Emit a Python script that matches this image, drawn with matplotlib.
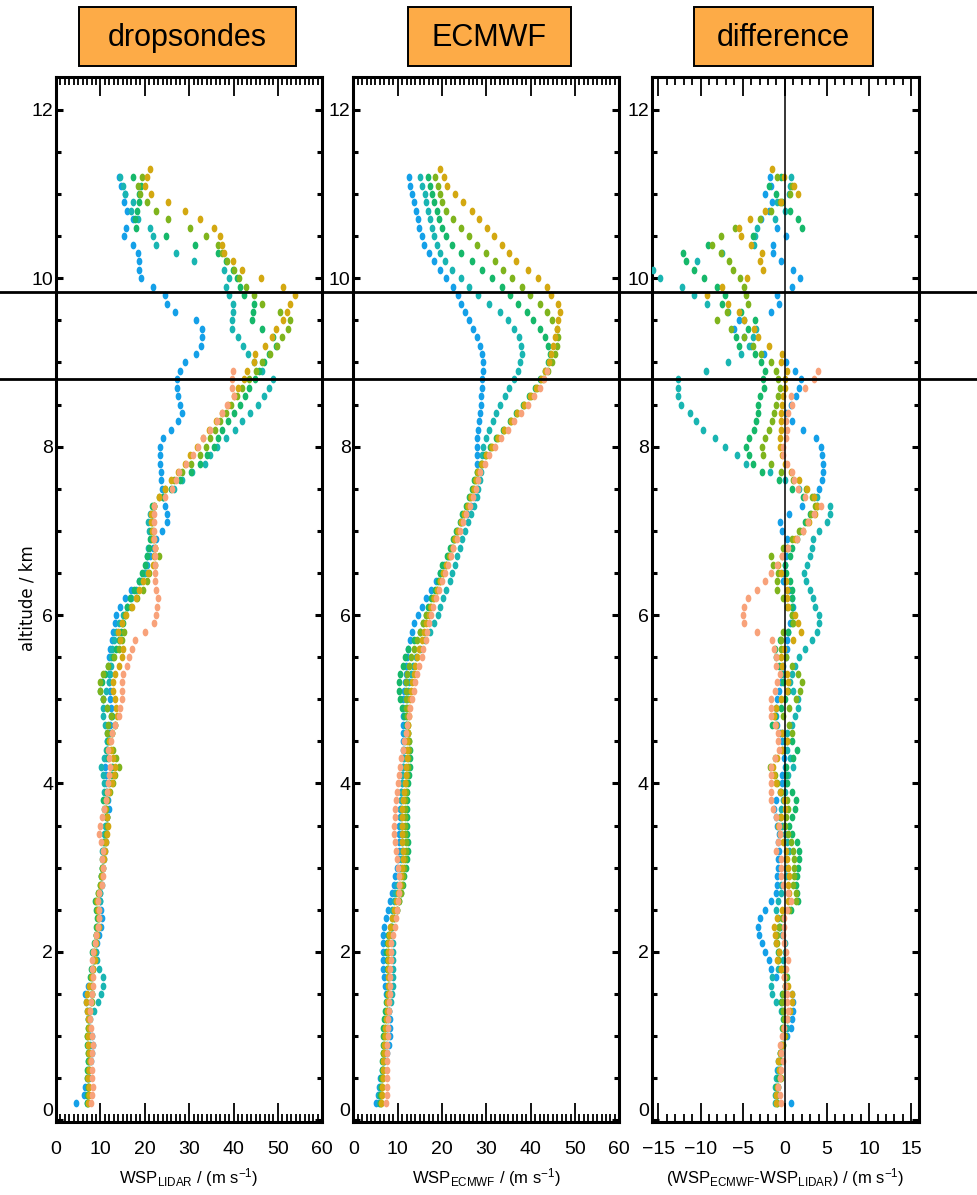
import numpy as np
import matplotlib
matplotlib.use('Agg')
import matplotlib.pyplot as plt
from matplotlib import font_manager
from matplotlib.path import Path
from matplotlib.patches import Rectangle
from matplotlib.lines import Line2D
import matplotlib.transforms as mtransforms

names = {f.name for f in font_manager.fontManager.ttflist}
NARROW = 'Liberation Sans Narrow' if 'Liberation Sans Narrow' in names else 'Liberation Sans'
plt.rcParams['font.family'] = [NARROW, 'DejaVu Sans']
plt.rcParams['mathtext.fontset'] = 'custom'
plt.rcParams['mathtext.rm'] = NARROW
plt.rcParams['mathtext.it'] = NARROW
plt.rcParams['mathtext.bf'] = NARROW

# ---------------- data (wind speed, m/s) on altitude levels 0.2, 0.3, ... km ----------------
alt_start = 0.2
alt_step = 0.1

# dropsondes
drop_blue = [4.5, 6.4, 6.6, 7.0, 7.4, 7.8, 8.2, 8.3, 8.0, 7.6,
             7.3, 7.0, 6.7, 6.5, 7.2, 8.0, 8.4, 8.6, 8.9, 9.3,
             9.8, 10.1, 10.3, 10.2, 10.0, 9.9, 10.1, 10.4, 10.6, 10.9,
             11.0, 11.2, 11.1, 11.3, 11.6, 11.9, 11.7, 11.4, 11.2, 11.3,
             11.1, 11.3, 11.4, 11.6, 11.9, 12.2, 12.4, 12.3, 12.2, 12.1,
             12.0, 12.0, 12.1, 12.0, 12.2, 12.6, 12.9, 13.2, 13.6, 14.4,
             15.6, 17.0, 18.8, 19.8, 20.5, 21.2, 21.8, 22.5, 23.8, 25.1,
             25.1, 24.6, 24.0, 23.8, 23.7, 23.6, 23.5, 23.5, 23.5, 24.2,
             25.9, 27.4, 28.4, 28.0, 27.6, 27.3, 27.2, 28.0, 29.1, 31.6,
             32.6, 32.8, 32.9, 31.5, 26.8, 25.1, 24.6, 21.8, 19.1, 18.6,
             18.6, 18.4, 17.4, 15.3, 15.8, 17.4, 16.1, 15.3, 15.6, 14.6,
             14.3]
drop_teal = [6.9, 7.1, 7.3, 7.5, 7.4, 7.3, 7.5, 7.7, 7.6, 7.4,
             7.6, 8.6, 9.4, 10.2, 10.6, 10.5, 9.8, 9.2, 9.0, 8.9,
             9.1, 9.3, 9.5, 9.8, 9.9, 10.0, 10.3, 10.1, 10.4, 10.6,
             10.4, 10.7, 10.9, 11.1, 11.4, 11.3, 11.0, 10.8, 10.8, 10.6,
             10.2, 10.8, 11.3, 11.6, 11.4, 11.0, 10.7, 10.5, 10.6, 11.3,
             12.0, 12.2, 12.3, 12.4, 12.6, 13.0, 13.5, 14.2, 15.0, 16.0,
             17.0, 18.0, 19.2, 20.0, 20.3, 20.5, 20.8, 21.3, 21.0, 20.8,
             21.2, 22.0, 24.0, 26.5, 28.5, 30.6, 33.6, 34.8, 36.3, 38.2,
             40.3, 42.0, 43.6, 45.5, 46.9, 47.9, 48.9, 46.5, 44.5, 43.2,
             42.1, 41.1, 39.6, 39.6, 39.9, 39.9, 39.0, 38.4, 39.0, 37.9,
             31.1, 27.1, 22.6, 21.8, 21.1, 18.5, 16.8, 17.3, 15.6, 15.0,
             14.4]
drop_green = [6.9, 7.0, 7.2, 7.1, 7.0, 7.1, 7.2, 7.0, 6.9, 7.1,
              7.2, 7.5, 7.9, 8.0, 7.8, 7.6, 7.9, 8.3, 8.2, 8.6,
              8.9, 9.1, 9.3, 9.1, 8.8, 9.4, 9.9, 10.1, 10.3, 10.4,
              10.6, 10.9, 11.3, 11.5, 11.2, 10.8, 10.7, 11.3, 12.0, 12.4,
              12.6, 11.8, 11.4, 11.7, 12.6, 13.4, 12.6, 11.5, 10.6, 9.9,
              10.4, 11.0, 11.8, 12.8, 13.6, 14.2, 14.6, 15.0, 15.6, 16.0,
              16.7, 17.5, 18.6, 19.4, 20.0, 20.6, 21.0, 21.2, 21.4, 21.6,
              21.6, 21.6, 24.0, 26.0, 28.0, 30.5, 32.5, 34.0, 35.5, 36.6,
              37.5, 38.7, 40.0, 41.5, 42.6, 43.5, 44.8, 45.7, 46.8, 48.0,
              49.5, 49.0, 46.5, 44.1, 44.3, 44.7, 42.4, 41.5, 40.8, 39.8,
              38.4, 36.5, 31.4, 24.8, 18.0, 17.9, 18.2, 18.6, 18.8, 19.2,
              17.3]
drop_lime = [7.1, 7.3, 7.2, 7.0, 7.2, 7.4, 7.3, 7.1, 7.0, 7.2,
             7.4, 7.7, 8.0, 8.1, 8.0, 7.9, 8.3, 8.6, 8.5, 8.8,
             9.0, 9.3, 9.5, 9.3, 9.0, 9.4, 10.0, 10.2, 10.4, 10.6,
             10.8, 11.1, 11.3, 11.6, 11.5, 11.2, 11.5, 12.2, 12.8, 13.3,
             14.1, 13.6, 12.8, 12.2, 11.6, 11.8, 12.3, 11.4, 10.5, 10.0,
             9.9, 10.6, 11.8, 13.0, 14.1, 14.8, 15.3, 14.8, 15.6, 17.0,
             18.2, 19.7, 20.4, 21.0, 22.3, 23.1, 22.4, 22.0, 21.8, 21.6,
             21.8, 22.0, 23.1, 24.5, 26.5, 28.5, 30.5, 32.5, 33.8, 34.8,
             35.8, 37.0, 38.3, 39.5, 40.8, 42.0, 43.5, 45.0, 46.5, 48.3,
             49.8, 51.0, 52.3, 52.8, 50.5, 46.4, 44.5, 42.8, 41.2, 40.0,
             38.6, 37.5, 36.6, 33.8, 30.2, 25.3, 22.5, 20.5, 18.9, 18.4,
             19.3]
drop_gold = [7.3, 7.5, 7.4, 7.2, 7.4, 7.6, 7.5, 7.3, 7.2, 7.4,
             7.2, 7.0, 6.8, 7.0, 7.5, 8.0, 8.4, 8.8, 8.6, 8.9,
             9.2, 9.6, 9.7, 9.5, 9.3, 9.6, 10.1, 10.3, 10.6, 10.8,
             11.0, 11.2, 11.5, 11.7, 11.4, 11.0, 11.3, 12.0, 12.6, 13.1,
             13.3, 12.9, 12.4, 12.0, 12.6, 13.4, 13.8, 13.6, 13.2, 12.8,
             12.9, 13.4, 14.3, 14.8, 15.0, 14.4, 14.0, 14.8, 15.8, 17.2,
             18.0, 18.6, 19.5, 20.8, 21.8, 22.0, 22.2, 21.8, 21.6, 21.4,
             21.4, 22.0, 23.1, 24.6, 26.0, 27.5, 29.0, 30.3, 31.8, 33.2,
             34.5, 36.0, 37.5, 38.7, 40.0, 41.1, 42.3, 43.0, 44.5, 44.9,
             47.0, 48.7, 49.6, 51.1, 52.0, 52.8, 53.8, 51.1, 46.2, 41.9,
             39.8, 37.9, 37.5, 37.0, 35.5, 32.5, 29.0, 25.3, 21.4, 20.1,
             20.6, 21.1]
drop_salmon = [7.8, 8.1, 8.3, 8.2, 8.0, 7.9, 8.1, 8.3, 8.1, 7.9,
               7.7, 7.6, 7.8, 8.0, 8.3, 8.4, 8.2, 8.0, 8.3, 8.7,
               9.1, 9.4, 9.7, 9.6, 9.4, 9.8, 10.4, 10.7, 10.5, 10.4,
               10.6, 10.2, 9.8, 9.9, 10.4, 10.9, 11.3, 11.6, 11.8, 12.0,
               12.2, 12.0, 11.8, 12.3, 12.6, 13.4, 14.1, 14.4, 14.8, 14.8,
               14.8, 15.0, 15.9, 16.5, 17.1, 17.8, 20.0, 22.0, 22.5, 22.8,
               23.0, 22.6, 22.3, 22.3, 22.3, 22.3, 22.2, 22.0, 22.0, 22.0,
               22.0, 22.0, 24.6, 26.1, 27.0, 27.8, 29.4, 30.9, 32.1, 33.2,
               34.6, 36.2, 37.4, 38.5, 40.0, 39.6, 39.6, 39.9]

# ECMWF
ecmwf_blue = [5.2, 5.5, 5.8, 6.1, 6.5, 7.0, 7.6, 8.1, 8.3, 8.3,
              8.2, 8.0, 7.7, 7.4, 7.2, 7.0, 6.8, 6.7, 6.6, 6.6,
              6.7, 6.9, 7.3, 7.8, 8.3, 8.8, 9.2, 9.5, 9.8, 10.1,
              10.3, 10.4, 10.4, 10.4, 10.5, 10.6, 10.7, 10.8, 10.9, 11.0,
              11.1, 11.2, 11.3, 11.3, 11.3, 11.3, 11.3, 11.3, 11.3, 11.4,
              11.6, 11.8, 11.9, 12.1, 12.4, 12.8, 13.3, 13.8, 14.6, 15.4,
              16.4, 17.5, 18.6, 19.6, 20.5, 21.3, 22.1, 22.8, 23.5, 24.5,
              25.6, 26.6, 27.4, 27.9, 28.1, 28.1, 28.0, 27.9, 27.8, 27.9,
              28.1, 28.3, 28.5, 28.7, 28.9, 29.0, 29.1, 29.2, 29.2, 29.1,
              28.6, 28.0, 26.9, 26.0, 25.2, 24.4, 23.7, 22.6, 20.9, 19.6,
              18.1, 17.0, 16.0, 15.4, 14.9, 14.6, 14.2, 13.8, 13.3, 12.9,
              12.5]
ecmwf_teal = [5.7, 5.9, 6.1, 6.4, 6.6, 6.9, 7.1, 7.3, 7.5, 7.7,
              7.9, 8.1, 8.4, 8.7, 8.9, 9.0, 9.0, 9.0, 9.0, 8.9,
              8.8, 8.7, 8.7, 8.8, 9.1, 9.5, 9.9, 10.2, 10.5, 10.7,
              10.9, 10.9, 10.9, 10.8, 10.8, 10.8, 10.8, 10.8, 10.9, 11.0,
              11.2, 11.4, 11.5, 11.6, 11.7, 11.8, 11.9, 12.0, 12.1, 12.3,
              12.6, 13.0, 13.5, 14.1, 15.0, 16.2, 17.3, 18.2, 19.0, 19.6,
              20.3, 21.0, 21.7, 22.3, 22.9, 23.5, 24.0, 24.6, 25.1, 25.8,
              26.6, 27.3, 27.8, 28.2, 28.5, 28.8, 29.0, 29.1, 29.2, 29.9,
              30.6, 31.4, 32.3, 33.2, 34.2, 35.2, 36.2, 37.1, 37.7, 38.0,
              37.9, 37.3, 36.2, 34.8, 33.1, 30.7, 28.2, 26.2, 24.2, 22.2,
              20.7, 19.6, 18.9, 18.3, 17.8, 17.3, 16.8, 16.4, 16.1, 15.6,
              15.1]
ecmwf_green = [6.0, 6.1, 6.2, 6.3, 6.4, 6.5, 6.6, 6.6, 6.7, 6.8,
               7.0, 7.2, 7.4, 7.7, 7.9, 7.9, 7.7, 7.5, 7.4, 7.5,
               7.8, 8.4, 9.1, 9.8, 10.4, 10.8, 11.2, 11.5, 11.8, 12.1,
               12.3, 12.3, 12.2, 12.0, 12.0, 12.0, 12.0, 12.1, 12.3, 12.5,
               12.7, 12.8, 12.8, 12.6, 12.3, 11.9, 11.4, 11.0, 10.6, 10.3,
               10.2, 10.5, 11.1, 11.7, 12.4, 13.6, 15.0, 15.8, 16.4, 16.9,
               17.5, 18.4, 19.2, 19.5, 20.0, 21.2, 21.8, 22.6, 23.2, 24.0,
               24.6, 25.4, 26.1, 26.8, 27.3, 27.8, 28.7, 29.7, 30.9, 32.3,
               33.8, 35.3, 36.8, 38.3, 39.7, 41.0, 42.2, 43.3, 44.0, 44.4,
               44.0, 43.2, 42.1, 40.6, 39.1, 37.2, 35.3, 33.5, 31.2, 29.0,
               26.7, 24.4, 22.3, 21.0, 20.0, 19.4, 18.8, 18.3, 17.7, 17.3,
               16.9]
ecmwf_lime = [6.2, 6.3, 6.4, 6.5, 6.6, 6.7, 6.8, 6.9, 7.0, 7.1,
              7.3, 7.5, 7.7, 7.9, 8.0, 8.0, 7.9, 7.8, 7.8, 7.9,
              8.1, 8.6, 9.2, 9.8, 10.3, 10.7, 11.0, 11.3, 11.5, 11.7,
              11.8, 11.8, 11.7, 11.6, 11.6, 11.6, 11.7, 11.8, 11.9, 12.1,
              12.3, 12.4, 12.5, 12.5, 12.4, 12.3, 12.1, 11.9, 11.8, 11.8,
              11.9, 12.2, 12.6, 13.1, 13.7, 14.4, 15.1, 15.8, 16.5, 17.3,
              18.0, 18.8, 19.5, 20.2, 20.9, 21.5, 22.2, 22.8, 23.5, 24.2,
              24.9, 25.6, 26.3, 27.0, 27.5, 28.0, 28.9, 29.9, 31.1, 32.5,
              33.9, 35.5, 37.0, 38.5, 40.0, 41.4, 42.7, 43.9, 44.9, 45.5,
              46.0, 46.2, 45.9, 44.8, 43.6, 42.0, 39.9, 38.0, 35.9, 33.8,
              32.0, 29.9, 28.0, 26.2, 24.3, 22.4, 20.9, 19.9, 19.5, 19.2,
              18.4]
ecmwf_gold = [6.3, 6.4, 6.5, 6.6, 6.7, 6.8, 6.9, 7.0, 7.1, 7.2,
              7.4, 7.6, 7.7, 7.8, 7.9, 7.9, 7.9, 7.9, 7.9, 7.9,
              8.0, 8.3, 8.8, 9.2, 9.7, 10.1, 10.5, 10.8, 11.0, 11.1,
              11.1, 11.0, 10.9, 10.9, 10.9, 11.0, 11.2, 11.4, 11.6, 11.8,
              11.9, 12.0, 12.1, 12.2, 12.3, 12.4, 12.5, 12.6, 12.8, 13.0,
              13.3, 13.6, 14.0, 14.4, 14.9, 15.4, 15.9, 16.4, 17.0, 17.6,
              18.2, 18.9, 19.6, 20.3, 21.0, 21.7, 22.4, 23.0, 23.7, 24.3,
              25.0, 25.8, 26.5, 27.2, 27.7, 28.2, 29.0, 30.0, 31.2, 32.6,
              34.0, 35.5, 37.0, 38.4, 39.8, 41.1, 42.3, 43.3, 44.1, 44.6,
              45.1, 45.5, 45.9, 46.2, 46.6, 46.1, 44.6, 43.6, 41.7, 39.3,
              36.8, 35.2, 33.5, 31.8, 30.1, 28.4, 26.7, 24.8, 22.9, 21.2,
              20.5, 19.6]
ecmwf_salmon = [7.4, 7.5, 7.5, 7.6, 7.6, 7.7, 7.7, 7.7, 7.8, 7.8,
                7.9, 8.0, 8.1, 8.2, 8.3, 8.3, 8.3, 8.4, 8.4, 8.6,
                8.9, 9.3, 9.6, 9.9, 10.1, 10.2, 10.2, 10.2, 10.1, 9.9,
                9.6, 9.4, 9.2, 9.2, 9.3, 9.5, 9.7, 9.9, 10.1, 10.3,
                10.5, 10.8, 11.1, 11.5, 11.8, 12.2, 12.5, 12.8, 13.2, 13.6,
                13.9, 14.4, 14.9, 15.4, 15.8, 16.3, 16.7, 17.1, 17.5, 18.0,
                18.6, 19.3, 20.0, 20.7, 21.4, 22.0, 22.6, 23.4, 24.1, 24.8,
                25.5, 26.3, 27.0, 27.6, 28.1, 28.6, 29.6, 30.7, 31.9, 33.3,
                34.8, 36.3, 37.8, 39.3, 40.7, 42.0, 43.0, 43.8]

drops = [drop_blue, drop_teal, drop_green, drop_lime, drop_gold, drop_salmon]
ecmwfs = [ecmwf_blue, ecmwf_teal, ecmwf_green, ecmwf_lime, ecmwf_gold, ecmwf_salmon]
colors = ['#14a0e8', '#19b5b2', '#16b86a', '#7fb41d', '#d3a811', '#f8a27a']

marked_levels = [9.84, 8.80]
panel_titles = ['dropsondes', 'ECMWF', 'difference']
xlabels = [r'WSP$_{\mathrm{LIDAR}}$ / (m s$^{\mathrm{-1}}$)',
           r'WSP$_{\mathrm{ECMWF}}$ / (m s$^{\mathrm{-1}}$)',
           r'(WSP$_{\mathrm{ECMWF}}$-WSP$_{\mathrm{LIDAR}}$) / (m s$^{\mathrm{-1}}$)']

# ---------------- figure ----------------
W, H = 977, 1195
fig = plt.figure(figsize=(W / 100, H / 100), dpi=100)


def rect(l, t, r, b):
    return [l / W, 1 - b / H, (r - l) / W, (b - t) / H]


ax1 = fig.add_axes(rect(56, 77, 322.3, 1122))
ax2 = fig.add_axes(rect(353.3, 77, 619.3, 1122))
ax3 = fig.add_axes(rect(651.7, 77, 919.3, 1122))
axes = [ax1, ax2, ax3]

t = np.linspace(0, 2 * np.pi, 41)
ell = Path(np.column_stack([0.74 * np.cos(t), np.sin(t)]), closed=True)
S = 31


def alts(n):
    return alt_start + alt_step * np.arange(n)


for vals, c in zip(drops, colors):
    v = np.asarray(vals)
    ax1.scatter(v, alts(len(v)), s=S, marker=ell, color=c, linewidths=0, zorder=3)
for vals, c in zip(ecmwfs, colors):
    v = np.asarray(vals)
    ax2.scatter(v, alts(len(v)), s=S, marker=ell, color=c, linewidths=0, zorder=3)
for d, e, c in zip(drops, ecmwfs, colors):
    n = min(len(d), len(e))
    diff = np.asarray(e[:n]) - np.asarray(d[:n])
    ax3.scatter(diff, alts(n), s=S, marker=ell, color=c, linewidths=0, zorder=3)
ax3.axvline(0, color='black', lw=1.1, zorder=4)

ax1.set_xlim(0, 60)
ax2.set_xlim(0, 60)
ax3.set_xlim(-15.8, 15.95)
for ax in axes:
    ax.set_ylim(-0.02, 12.39)
    ax.set_yticks(np.arange(0, 13, 2))
    ax.set_yticks(np.arange(0, 12.4, 0.5), minor=True)
    ax.tick_params(axis='x', which='both', direction='in', top=True, bottom=True,
                   width=1.3, labelsize=14, pad=14)
    ax.tick_params(axis='x', which='major', length=14)
    ax.tick_params(axis='x', which='minor', length=6)
    ax.tick_params(axis='y', which='both', direction='in', left=True, right=True,
                   width=2.2, labelsize=14, pad=2)
    ax.tick_params(axis='y', which='major', length=5)
    ax.tick_params(axis='y', which='minor', length=3.5)
    for sp in ax.spines.values():
        sp.set_linewidth(2.2)
for ax in (ax1, ax2):
    ax.set_xticks(np.arange(0, 61, 10))
    ax.set_xticks(np.arange(0, 61, 1), minor=True)
ax3.set_xticks(np.arange(-15, 16, 5))
ax3.set_xticks(np.arange(-15, 16, 1), minor=True)

fig.canvas.draw()
for ax in axes:
    labs = ax.get_yticklabels()
    labs[0].set_verticalalignment('bottom')

# horizontal marker lines spanning the whole figure
tr = mtransforms.blended_transform_factory(fig.transFigure, ax1.transData)
for lev in marked_levels:
    fig.add_artist(Line2D([0, 1], [lev, lev], transform=tr, color='black', lw=2.0, zorder=10))

# x labels
for cx, lab in zip([189, 487, 785], xlabels):
    fig.text(cx / W, 1 - 1178 / H, lab, ha='center', va='center', fontsize=12)

# y label
fig.text(28 / W, 1 - 598 / H, 'altitude / km', rotation=90, ha='center', va='center',
         fontsize=12, family='DejaVu Sans')

# title boxes
boxes = [(79, 296), (408, 571), (694, 873)]
for (l, r), title in zip(boxes, panel_titles):
    fig.add_artist(Rectangle((l / W, 1 - 66 / H), (r - l) / W, 59 / H,
                             transform=fig.transFigure, facecolor='#fdab47',
                             edgecolor='black', lw=1.4))
    fig.text((l + r) / 2 / W, 1 - 38 / H, title, ha='center', va='center',
             fontsize=22, family=['Liberation Sans', 'DejaVu Sans'])

fig.savefig('out.png', dpi=100)
